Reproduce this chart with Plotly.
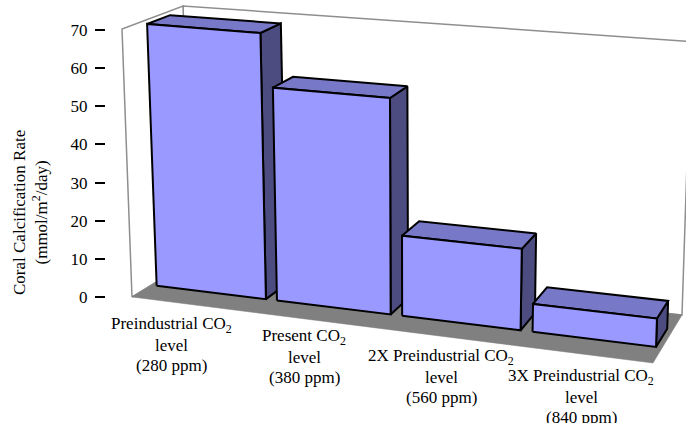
import numpy as np
import plotly.graph_objects as go

# ---------------- data ----------------
categories = [
    "Preindustrial CO<sub>2</sub><br>level<br>(280 ppm)",
    "Present CO<sub>2</sub><br>level<br>(380 ppm)",
    "2X Preindustrial CO<sub>2</sub><br>level<br>(560 ppm)",
    "3X Preindustrial CO<sub>2</sub><br>level<br>(840 ppm)",
]
values = [69.5, 55.5, 20.5, 7.0]
y_ticks = [0, 10, 20, 30, 40, 50, 60, 70]
y_title = "Coral Calcification Rate<br>(mmol/m<sup>2</sup>/day)"

# ---------------- style / layout ----------------
W, H = 686, 423
FONT = "Liberation Serif"
FS = 17
Y_MAX = 70
N = len(values)
GAP = 0.045            # half gap between bars (category units)
Z0, Z1 = 0.32, 0.70    # bar depth span (floor depth = 1)
K_PERSP = 1.085        # horizontal perspective (right side nearer)
FRONT, TOP, SIDE = "#9999FF", "#7878C8", "#4C4C80"
FLOOR, WALL_LINE = "#808080", "#8E8E8E"

# pixel position of the value axis (0 and max)
AX_X = 105
PY0, PYMAX = 297, 30
S = (PY0 - PYMAX) / Y_MAX

# screen position of the 8 corners of the chart box, indexed [x][y][z]
# (x: 0 left / 1 right, y: 0 floor / 1 top, z: 0 front / 1 back)
BOX = np.array([
    [[(132, 297), (192.5, 260)], [(122, 29), (183, 6)]],
    [[(653, 363), (682, 315)], [(662.5, 74.4), (691, 41.5)]],
], dtype=float)


def proj(X, Y, Z):
    u0 = X / N
    u = u0 / (u0 + K_PERSP * (1 - u0))
    v, w = Y / Y_MAX, Z
    p = np.zeros(2)
    for i, a in ((0, 1 - u), (1, u)):
        for j, b in ((0, 1 - v), (1, v)):
            for k, c in ((0, 1 - w), (1, w)):
                p += a * b * c * BOX[i, j, k]
    return p[0], (PY0 - p[1]) / S


def to_y(py):
    return (PY0 - py) / S


Y_LO, Y_HI = to_y(H), to_y(0)

fig = go.Figure()


def poly(pts, fill, line_color, lw):
    xy = [proj(*p) for p in pts]
    xs = [a for a, _ in xy] + [xy[0][0]]
    ys = [b for _, b in xy] + [xy[0][1]]
    fig.add_trace(go.Scatter(
        x=xs, y=ys, mode="lines", fill="toself", fillcolor=fill,
        line=dict(color=line_color, width=lw), hoverinfo="skip",
        showlegend=False))


# walls
poly([(0, 0, 1), (N, 0, 1), (N, Y_MAX, 1), (0, Y_MAX, 1)], "white", WALL_LINE, 1.5)
poly([(0, 0, 0), (0, 0, 1), (0, Y_MAX, 1), (0, Y_MAX, 0)], "white", WALL_LINE, 1.5)
# floor
poly([(0, 0, 0), (N, 0, 0), (N, 0, 1), (0, 0, 1)], FLOOR, FLOOR, 0.5)

# bars
for i, v in enumerate(values):
    x0, x1 = i + GAP, i + 1 - GAP
    poly([(x1, 0, Z0), (x1, 0, Z1), (x1, v, Z1), (x1, v, Z0)], SIDE, "black", 2)
    poly([(x0, v, Z0), (x1, v, Z0), (x1, v, Z1), (x0, v, Z1)], TOP, "black", 2)
    poly([(x0, 0, Z0), (x1, 0, Z0), (x1, v, Z0), (x0, v, Z0)], FRONT, "black", 2)

# category labels: (centre x, first line y) in pixels, line step
label_pos = [(171, 325), (304, 337), (441, 357), (581, 377)]
LINE_STEP = 20
for txt, (lx, ly) in zip(categories, label_pos):
    for k, line in enumerate(txt.split("<br>")):
        fig.add_annotation(x=lx, y=to_y(ly + k * LINE_STEP), text=line,
                           showarrow=False, xanchor="center", yanchor="middle",
                           font=dict(family=FONT, size=FS, color="black"))

# value axis title
fig.add_annotation(x=30, y=to_y(213), text=y_title, showarrow=False,
                   textangle=-90, xanchor="center", yanchor="middle",
                   align="center", font=dict(family=FONT, size=FS, color="black"))

fig.update_layout(
    width=W, height=H, margin=dict(l=0, r=0, t=0, b=0),
    paper_bgcolor="white", plot_bgcolor="rgba(0,0,0,0)",
    xaxis=dict(range=[0, W], visible=False, fixedrange=True),
    yaxis=dict(range=[Y_LO, Y_HI], anchor="free", position=AX_X / W,
               tickvals=y_ticks, ticks="outside", ticklen=10, tickwidth=2,
               tickcolor="black", showgrid=False, zeroline=False,
               showline=False, ticklabelstandoff=4, fixedrange=True,
               tickfont=dict(family=FONT, size=FS, color="black")),
)

fig.write_html("out.html", config={"displayModeBar": False},
               post_script="document.body.style.margin='0';"
                           "document.body.style.overflow='hidden';")
